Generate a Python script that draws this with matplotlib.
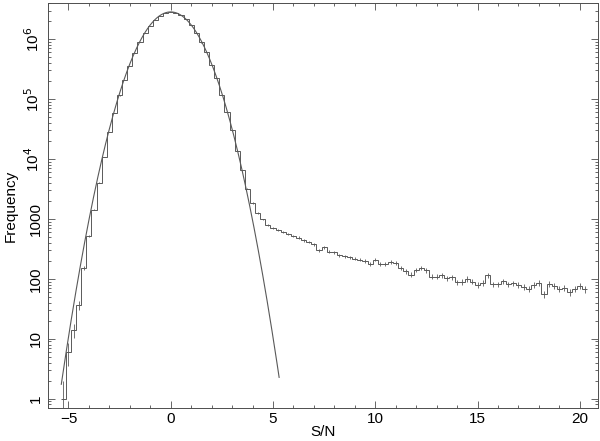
import matplotlib
matplotlib.use("Agg")
import matplotlib.pyplot as plt
import numpy as np
from matplotlib.ticker import FixedLocator, FixedFormatter, LogLocator, NullFormatter, MultipleLocator

plt.rcParams["font.family"] = ["Liberation Sans", "DejaVu Sans"]

# ---- histogram of S/N (bin width 0.25, first bin centred on -5.25) ----
bin_start = -5.25
bin_width = 0.25
counts = [
    1, 6, 14, 36, 150, 515, 1430, 4040, 10800, 28000,
    58000, 115000, 205000, 360000, 590000, 890000, 1270000, 1680000, 2120000, 2480000,
    2740000, 2840000, 2760000, 2500000, 2140000, 1710000, 1290000, 880000, 600000, 370000,
    225000, 118000, 61000, 30000, 13600, 6500, 3200, 1845, 1260, 980,
    800, 715, 660, 613, 568, 526, 487, 440, 410, 375,
    300, 335, 285, 280, 245, 238, 228, 218, 210, 198,
    180, 210, 175, 175, 190, 182, 150, 133, 118, 140,
    152, 138, 108, 108, 114, 102, 106, 87, 89, 100,
    90, 80, 86, 114, 81, 81, 91, 81, 84, 80,
    73, 68, 78, 86, 56, 83, 75, 68, 70, 60,
    68, 75, 67,
]

# ---- fitted gaussian (noise part) ----
gauss_amp = 2.85e6
gauss_mu = 0.0
gauss_sigma = 1.0
gauss_range = (-5.35, 5.3)

ytick_vals = [1, 10, 100, 1000, 1e4, 1e5, 1e6]
ytick_labels = ["1", "10", "100", "1000", r"10$^{4}$", r"10$^{5}$", r"10$^{6}$"]

counts = np.array(counts, dtype=float)
centers = bin_start + bin_width * np.arange(len(counts))
edges = np.append(centers - bin_width / 2, centers[-1] + bin_width / 2)

fig = plt.figure(figsize=(6.0, 4.41), dpi=100)
ax = fig.add_axes([0.08, 0.075, 0.917, 0.918])

lc = "0.35"
ax.stairs(counts, edges, baseline=None, color=lc, lw=0.7)
ax.errorbar(centers, counts, yerr=np.sqrt(counts), fmt="none", ecolor=lc, elinewidth=0.6, capsize=0)

gx = np.linspace(*gauss_range, 400)
ax.plot(gx, gauss_amp * np.exp(-(gx - gauss_mu) ** 2 / (2 * gauss_sigma ** 2)), color=lc, lw=0.8)

ax.set_yscale("log")
ax.set_xlim(-6, 20.9)
ax.set_ylim(0.7, 4.0e6)

ax.xaxis.set_major_locator(MultipleLocator(5))
ax.xaxis.set_minor_locator(MultipleLocator(1))
ax.yaxis.set_major_locator(FixedLocator(ytick_vals))
ax.yaxis.set_major_formatter(FixedFormatter(ytick_labels))
ax.yaxis.set_minor_locator(LogLocator(base=10, subs=np.arange(2, 10)))
ax.yaxis.set_minor_formatter(NullFormatter())

ax.tick_params(which="both", direction="in", top=True, right=True, color="0.3", width=0.6)
ax.tick_params(which="major", length=5, labelsize=11, pad=3)
ax.tick_params(which="minor", length=2.5)
ax.tick_params(axis="y", labelrotation=90, pad=4)
for lab in ax.get_yticklabels():
    lab.set_va("center")

for s in ax.spines.values():
    s.set_color("0.3")
    s.set_linewidth(0.7)

ax.set_xlabel("S/N", fontsize=11, labelpad=-1)
ax.set_ylabel("Frequency", fontsize=11, labelpad=4)

fig.savefig("out.png", dpi=100)
